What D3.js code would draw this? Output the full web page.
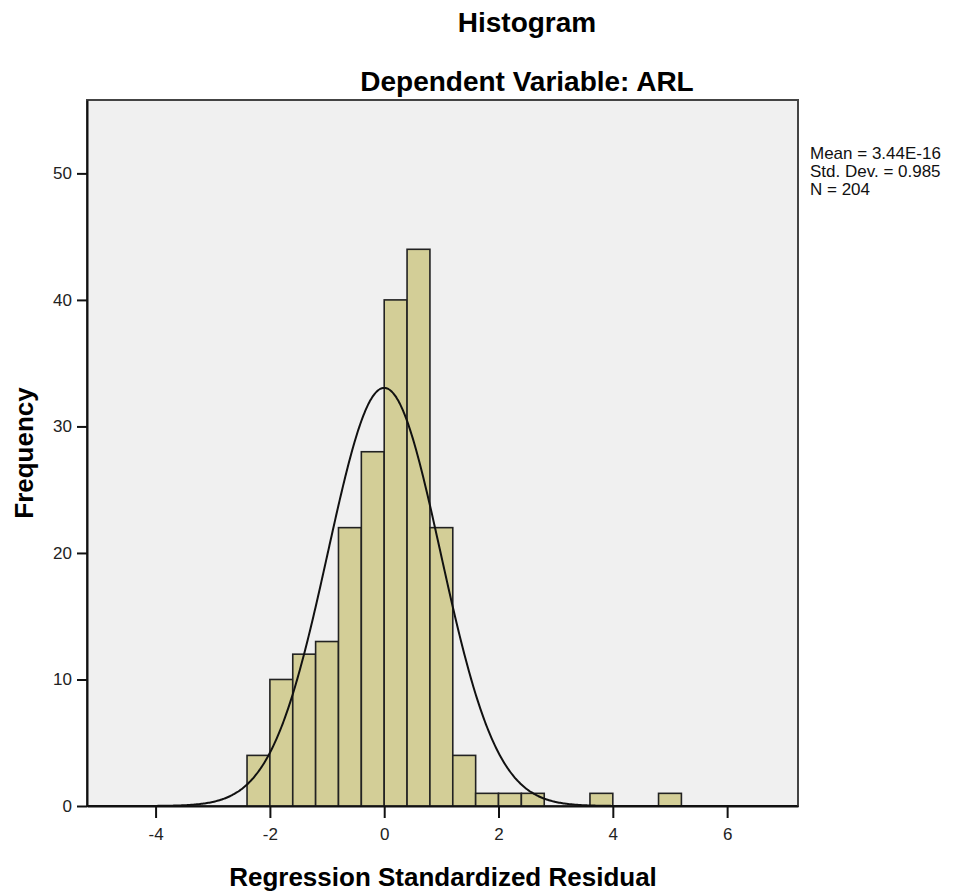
<!DOCTYPE html>
<html>
<head>
<meta charset="utf-8">
<script src="https://cdn.jsdelivr.net/npm/d3@7"></script>
<style>
body { margin: 0; background: #fff; }
text { font-family: "Liberation Sans", Arial, sans-serif; }
</style>
</head>
<body>
<div id="chart"></div>
<script>
// histogram bins (lower edge) and counts
var binStarts = [-2.4, -2.0, -1.6, -1.2, -0.8, -0.4, 0.0, 0.4, 0.8, 1.2, 1.6, 2.0, 2.4, 3.6, 4.8];
var counts = [4, 10, 12, 13, 22, 28, 40, 44, 22, 4, 1, 1, 1, 1, 1];
var binWidth = 0.4;
var xTicks = [-4, -2, 0, 2, 4, 6];
var yTicks = [0, 10, 20, 30, 40, 50];
var stats = ["Mean = 3.44E-16", "Std. Dev. = 0.985", "N = 204"];
var mean = 3.44e-16, sd = 0.985, n = 204;

var width = 961, height = 894;
var margin = { top: 100, right: 163, bottom: 88, left: 87 };

var svg = d3.select("#chart").append("svg")
    .attr("width", width)
    .attr("height", height);

var x = d3.scaleLinear().domain([-5.2, 7.24]).range([margin.left, width - margin.right]);
var y = d3.scaleLinear().domain([0, 55.8]).range([height - margin.bottom, margin.top]);

svg.append("rect")
    .attr("x", x.range()[0])
    .attr("y", y.range()[1])
    .attr("width", x.range()[1] - x.range()[0])
    .attr("height", y.range()[0] - y.range()[1])
    .attr("fill", "#f0f0f0")
    .attr("stroke", "#444")
    .attr("stroke-width", 2);

svg.selectAll("rect.bar")
    .data(binStarts)
    .enter().append("rect")
    .attr("class", "bar")
    .attr("x", function(d) { return x(d); })
    .attr("y", function(d, i) { return y(counts[i]); })
    .attr("width", function(d) { return x(d + binWidth) - x(d); })
    .attr("height", function(d, i) { return y(0) - y(counts[i]); })
    .attr("fill", "#d3ce97")
    .attr("stroke", "#222")
    .attr("stroke-width", 1.6);

// normal curve scaled to counts
var curveX = d3.range(-5.2, 7.24, 0.02);
var line = d3.line()
    .x(function(d) { return x(d); })
    .y(function(d) {
        var z = (d - mean) / sd;
        return y(n * binWidth / (sd * Math.sqrt(2 * Math.PI)) * Math.exp(-0.5 * z * z));
    })
    .curve(d3.curveBasis);

svg.append("path")
    .datum(curveX)
    .attr("d", line)
    .attr("fill", "none")
    .attr("stroke", "#111")
    .attr("stroke-width", 2);

var fmt = function(d) { return String(d); };

var xAxis = svg.append("g")
    .attr("transform", "translate(0," + y(0) + ")")
    .call(d3.axisBottom(x).tickValues(xTicks).tickFormat(fmt).tickSize(12).tickPadding(10).tickSizeOuter(0));
xAxis.select(".domain").attr("stroke", "#111").attr("stroke-width", 2);
xAxis.selectAll(".tick line").attr("stroke", "#111").attr("stroke-width", 2);
xAxis.selectAll("text").attr("font-size", 17).attr("fill", "#222").style("font-family", "Liberation Sans, Arial, sans-serif");

var yAxis = svg.append("g")
    .attr("transform", "translate(" + x.range()[0] + ",0)")
    .call(d3.axisLeft(y).tickValues(yTicks).tickFormat(fmt).tickSize(10).tickPadding(5).tickSizeOuter(0));
yAxis.select(".domain").attr("stroke", "#111").attr("stroke-width", 2);
yAxis.selectAll(".tick line").attr("stroke", "#111").attr("stroke-width", 2);
yAxis.selectAll("text").attr("font-size", 17).attr("fill", "#222").style("font-family", "Liberation Sans, Arial, sans-serif");

svg.append("text")
    .attr("x", 527).attr("y", 32)
    .attr("text-anchor", "middle")
    .attr("font-size", 28).attr("font-weight", "bold")
    .text("Histogram");

svg.append("text")
    .attr("x", 527).attr("y", 91)
    .attr("text-anchor", "middle")
    .attr("font-size", 28).attr("font-weight", "bold")
    .text("Dependent Variable: ARL");

svg.append("text")
    .attr("x", 443).attr("y", 886)
    .attr("text-anchor", "middle")
    .attr("font-size", 26).attr("font-weight", "bold")
    .text("Regression Standardized Residual");

svg.append("text")
    .attr("transform", "translate(33,453) rotate(-90)")
    .attr("text-anchor", "middle")
    .attr("font-size", 26).attr("font-weight", "bold")
    .text("Frequency");

svg.append("g").selectAll("text")
    .data(stats)
    .enter().append("text")
    .attr("x", 810)
    .attr("y", function(d, i) { return 159 + i * 18; })
    .attr("font-size", 17)
    .attr("fill", "#111")
    .text(function(d) { return d; });
</script>
</body>
</html>
